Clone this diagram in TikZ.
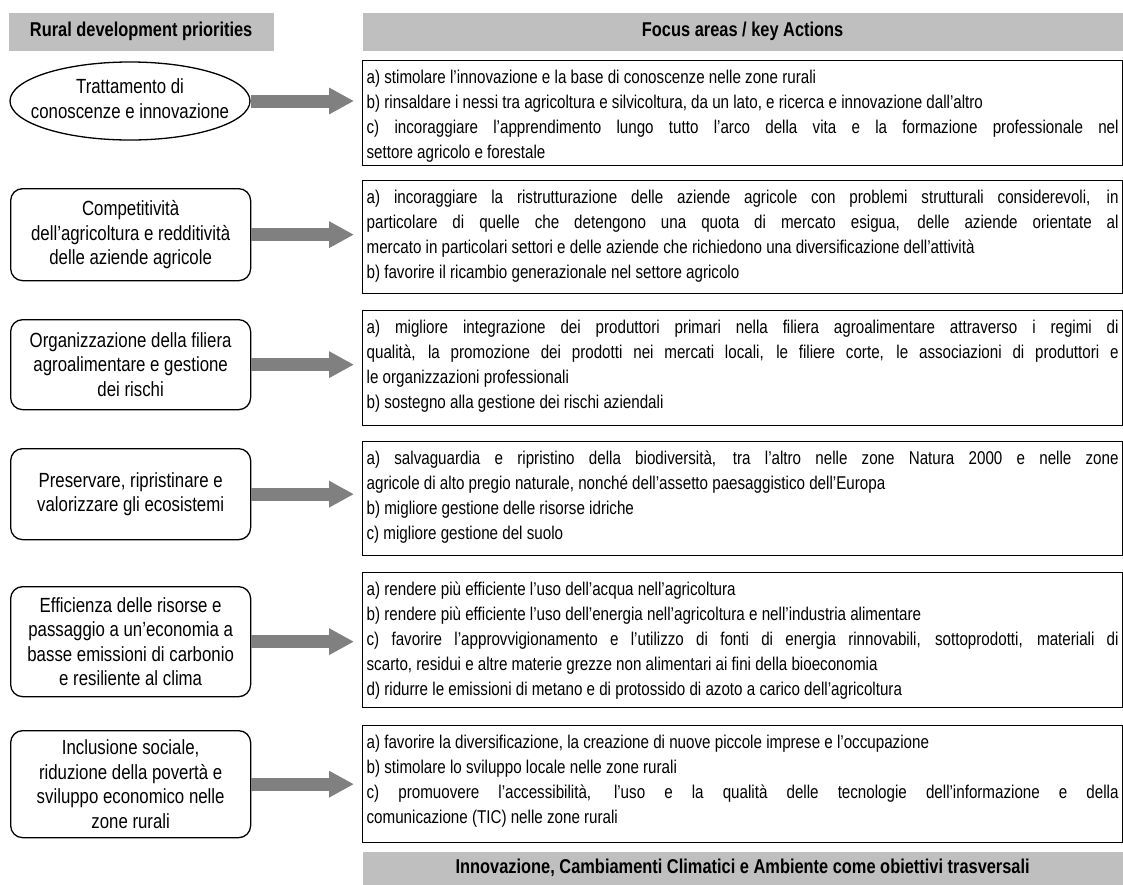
\documentclass[tikz,border=0pt]{standalone}
\usepackage{fontspec}
\setmainfont{Liberation Sans}[FakeStretch=0.82]
\usetikzlibrary{arrows.meta, positioning, shapes.geometric, calc}
\definecolor{chead}{HTML}{BFBFBF}
\definecolor{carrow}{HTML}{808080}
\tikzset{
  every picture/.style={line width=1.3pt},
  head/.style={fill=chead, inner sep=0pt, anchor=north west, font=\fontsize{20}{22}\selectfont\bfseries},
  prio/.style={draw, rounded corners=12pt, align=center, inner sep=2pt, minimum width=240pt, anchor=north west, font=\fontsize{20.5}{24.5}\selectfont},
  focus/.style={draw, align=justify, text width=752pt, inner xsep=4pt, inner ysep=3pt, text height=20pt, anchor=north west, font=\fontsize{18.5}{25}\selectfont},
  bigarrow/.style={-{Triangle[length=25pt, width=25pt]}, draw=carrow, line width=13pt, shorten >=8pt},
}

\begin{document}
\begin{tikzpicture}[x=1pt, y=-1pt]
  \useasboundingbox (0,0) rectangle (1123,884);
  % column heads
  \node[head, minimum width=265pt, minimum height=38pt] (hprio) at (8,12) {Rural development priorities};
  \node[head, minimum width=760pt, minimum height=38pt] (hfocus) at (362,12) {Focus areas / key Actions};
  % priorities
  \node[ellipse, draw, inner sep=0pt, minimum width=240pt, minimum height=78pt, font=\fontsize{20.5}{24.5}\selectfont] (p1) at (130,101)
    {\makebox[0pt]{\begin{tabular}{@{}c@{}}Trattamento di\\conoscenze e innovazione\end{tabular}}};
  \node[prio, minimum height=92pt] (p2) at (10,188) {Competitività\\dell’agricoltura e redditività\\delle aziende agricole};
  \node[prio, minimum height=90pt] (p3) at (10,319) {Organizzazione della filiera\\agroalimentare e gestione\\dei rischi};
  \node[prio, minimum height=91pt] (p4) at (10,448) {Preservare, ripristinare e\\valorizzare gli ecosistemi};
  \node[prio, minimum height=110pt] (p5) at (10,586) {Efficienza delle risorse e\\passaggio a un’economia a\\basse emissioni di carbonio\\e resiliente al clima};
  \node[prio, minimum height=107pt] (p6) at (10,730) {Inclusione sociale,\\riduzione della povertà e\\sviluppo economico nelle\\zone rurali};
  % focus areas
  \node[focus, text depth=79pt] (f1) at (362,60)
    {a) stimolare l’innovazione e la base di conoscenze nelle zone rurali\\
     b) rinsaldare i nessi tra agricoltura e silvicoltura, da un lato, e ricerca e innovazione dall’altro\\
     c) incoraggiare l’apprendimento lungo tutto l’arco della vita e la formazione professionale nel\linebreak settore agricolo e forestale};
  \node[focus, text depth=87pt] (f2) at (362,180)
    {a) incoraggiare la ristrutturazione delle aziende agricole con problemi strutturali considerevoli, in\linebreak particolare di quelle che detengono una quota di mercato esigua, delle aziende orientate al\linebreak mercato in particolari settori e delle aziende che richiedono una diversificazione dell’attività\\
     b) favorire il ricambio generazionale nel settore agricolo};
  \node[focus, text depth=89pt] (f3) at (362,310)
    {a) migliore integrazione dei produttori primari nella filiera agroalimentare attraverso i regimi di\linebreak qualità, la promozione dei prodotti nei mercati locali, le filiere corte, le associazioni di produttori e\linebreak le organizzazioni professionali\\
     b) sostegno alla gestione dei rischi aziendali};
  \node[focus, text depth=88pt] (f4) at (362,441)
    {a) salvaguardia e ripristino della biodiversità, tra l’altro nelle zone Natura 2000 e nelle zone\linebreak agricole di alto pregio naturale, nonché dell’assetto paesaggistico dell’Europa\\
     b) migliore gestione delle risorse idriche\\
     c) migliore gestione del suolo};
  \node[focus, text depth=109pt] (f5) at (362,572)
    {a) rendere più efficiente l’uso dell’acqua nell’agricoltura\\
     b) rendere più efficiente l’uso dell’energia nell’agricoltura e nell’industria alimentare\\
     c) favorire l’approvvigionamento e l’utilizzo di fonti di energia rinnovabili, sottoprodotti, materiali di\linebreak scarto, residui e altre materie grezze non alimentari ai fini della bioeconomia\\
     d) ridurre le emissioni di metano e di protossido di azoto a carico dell’agricoltura};
  \node[focus, text depth=91pt] (f6) at (362,725)
    {a) favorire la diversificazione, la creazione di nuove piccole imprese e l’occupazione\\
     b) stimolare lo sviluppo locale nelle zone rurali\\
     c) promuovere l’accessibilità, l’uso e la qualità delle tecnologie dell’informazione e della\linebreak comunicazione (TIC) nelle zone rurali};
  \node[head, minimum width=760pt, minimum height=33pt] (htrans) at (362,851)
    {Innovazione, Cambiamenti Climatici e Ambiente come obiettivi trasversali};
  % arrows
  \foreach \i in {1,...,6}
    \draw[bigarrow] (p\i.east) -- (p\i.east -| f\i.west);
\end{tikzpicture}
\end{document}
